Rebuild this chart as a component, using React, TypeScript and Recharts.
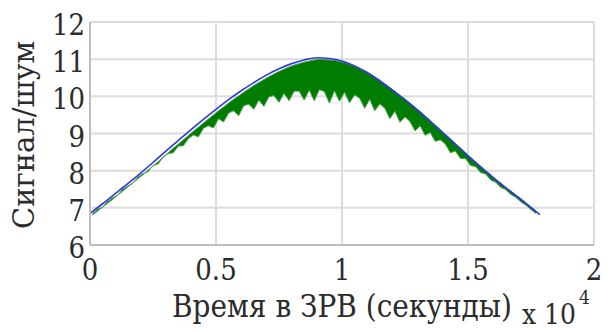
import React from 'react';
import { ComposedChart, Line, Area, XAxis, YAxis, CartesianGrid } from 'recharts';

// Time axis is in seconds, ticks are shown in units of 10^4
const xTicks = [0, 5000, 10000, 15000, 20000];
const yTicks = [6, 7, 8, 9, 10, 11, 12];

// Smooth (ideal) SNR curve, sampled every 500 s
const blueTime = [
  0, 500, 1000, 1500, 2000, 2500, 3000, 3500, 4000, 4500, 5000, 5500, 6000, 6500, 7000, 7500, 8000, 8500,
  9000, 9500, 10000, 10500, 11000, 11500, 12000, 12500, 13000, 13500, 14000, 14500, 15000, 15500, 16000,
  16500, 17000, 17500, 17850,
];
const blueSnr = [
  6.85, 7.11, 7.38, 7.65, 7.93, 8.22, 8.52, 8.81, 9.1, 9.38, 9.65, 9.91, 10.15, 10.37, 10.57, 10.74, 10.88,
  10.98, 11.04, 11.02, 10.95, 10.82, 10.64, 10.42, 10.17, 9.91, 9.63, 9.33, 9.02, 8.71, 8.4, 8.1, 7.81, 7.54,
  7.28, 7.01, 6.82,
];

// Noisy SNR: upper envelope every 200 s (from t = 0)
const greenTop = [
  6.81, 6.91, 7.02, 7.12, 7.23, 7.34, 7.45, 7.56, 7.67, 7.78, 7.89, 8.01, 8.12, 8.24, 8.36, 8.48, 8.6, 8.71,
  8.83, 8.94, 9.06, 9.17, 9.28, 9.39, 9.5, 9.61, 9.71, 9.82, 9.92, 10.01, 10.11, 10.2, 10.29, 10.37, 10.45,
  10.53, 10.6, 10.67, 10.73, 10.79, 10.84, 10.88, 10.92, 10.95, 10.98, 11.0, 10.99, 10.98, 10.97, 10.94,
  10.91, 10.86, 10.81, 10.75, 10.67, 10.6, 10.51, 10.42, 10.33, 10.23, 10.13, 10.03, 9.92, 9.81, 9.7, 9.59,
  9.47, 9.35, 9.23, 9.1, 8.98, 8.86, 8.73, 8.61, 8.48, 8.36, 8.24, 8.12, 8.0, 7.89, 7.77, 7.66, 7.55, 7.45,
  7.34, 7.24, 7.13, 7.02, 6.91, 6.81,
];
// Noisy SNR: lower envelope every 200 s (from t = 100)
const greenLow = [
  6.84, 6.96, 7.02, 7.17, 7.27, 7.34, 7.5, 7.59, 7.66, 7.82, 7.92, 7.97, 8.14, 8.18, 8.36, 8.46, 8.48, 8.66,
  8.67, 8.86, 8.96, 8.91, 9.14, 9.21, 9.15, 9.4, 9.31, 9.55, 9.61, 9.48, 9.75, 9.79, 9.65, 9.9, 9.73, 9.99,
  10.02, 9.84, 10.08, 9.88, 10.14, 10.14, 9.9, 10.17, 9.88, 10.18, 10.13, 9.82, 10.15, 9.87, 10.11, 9.83,
  10.04, 9.95, 9.68, 9.92, 9.61, 9.8, 9.68, 9.4, 9.6, 9.3, 9.45, 9.32, 9.07, 9.21, 8.95, 9.03, 8.79, 8.83,
  8.72, 8.48, 8.53, 8.33, 8.33, 8.14, 8.11, 7.95, 7.91, 7.75, 7.69, 7.55, 7.49, 7.36, 7.28, 7.16, 7.07, 6.95,
  6.85,
];

const blueData = blueTime.map((t, i) => ({ t, snr: blueSnr[i] }));

// band of the noisy signal between its lower and upper envelopes
const greenBand = greenLow.map((lo, i) => ({ t: i * 200 + 100, band: [lo, greenTop[i]] }));

const FONT = 'DejaVu Serif';
const TEXT = '#2b2b2b';

// serif text, slightly stretched vertically
const SText = ({ x, y, size, anchor = 'start', sy = 1.15, children }: any) => (
  <text
    transform={`translate(${x}, ${y}) scale(1, ${sy})`}
    textAnchor={anchor}
    fontFamily={FONT}
    fontSize={size}
    fill={TEXT}
  >
    {children}
  </text>
);

const XTick = (props: any) => {
  const { x, y, payload } = props;
  return (
    <SText x={x} y={y + 35} size={26} anchor="middle">
      {String(payload.value / 10000)}
    </SText>
  );
};

const YTick = (props: any) => {
  const { x, y, payload } = props;
  return (
    <SText x={x - 5} y={y + 13} size={26} anchor="end">
      {payload.value}
    </SText>
  );
};

export default function App() {
  return (
    <div style={{ position: 'absolute', left: 0, top: 0, width: 615, height: 332, background: '#fff' }}>
      <ComposedChart width={615} height={332} margin={{ top: 22, right: 21, bottom: 0, left: 0 }}>
        <CartesianGrid stroke="#dcdcdc" strokeWidth={2} />
        <XAxis
          type="number"
          dataKey="t"
          domain={[0, 20000]}
          ticks={xTicks}
          tick={<XTick />}
          tickSize={0}
          tickMargin={0}
          height={87}
          axisLine={{ stroke: '#bdbdbd', strokeWidth: 2 }}
          allowDataOverflow
        />
        <YAxis
          type="number"
          domain={[6, 12]}
          ticks={yTicks}
          tick={<YTick />}
          tickSize={0}
          tickMargin={0}
          width={90}
          axisLine={{ stroke: '#bdbdbd', strokeWidth: 2 }}
        />
        <Area
          data={greenBand}
          dataKey="band"
          type="linear"
          stroke="#4a9e4a"
          strokeWidth={1}
          fill="#007d00"
          fillOpacity={1}
          isAnimationActive={false}
        />
        <Line
          data={blueData}
          dataKey="snr"
          type="monotone"
          stroke="#3535e8"
          strokeWidth={1.6}
          dot={false}
          isAnimationActive={false}
        />
        <text
          transform="translate(34, 135) rotate(-90)"
          textAnchor="middle"
          fontFamily={FONT}
          fontSize={29}
          fill={TEXT}
        >
          Сигнал/шум
        </text>
        <SText x={342} y={317} size={28} anchor="middle" sy={1.1}>
          Время в ЗРВ (секунды)
        </SText>
        <SText x={522} y={324} size={25} sy={1.1}>
          x 10
        </SText>
        <SText x={579} y={304} size={17} sy={1.1}>
          4
        </SText>
      </ComposedChart>
    </div>
  );
}
